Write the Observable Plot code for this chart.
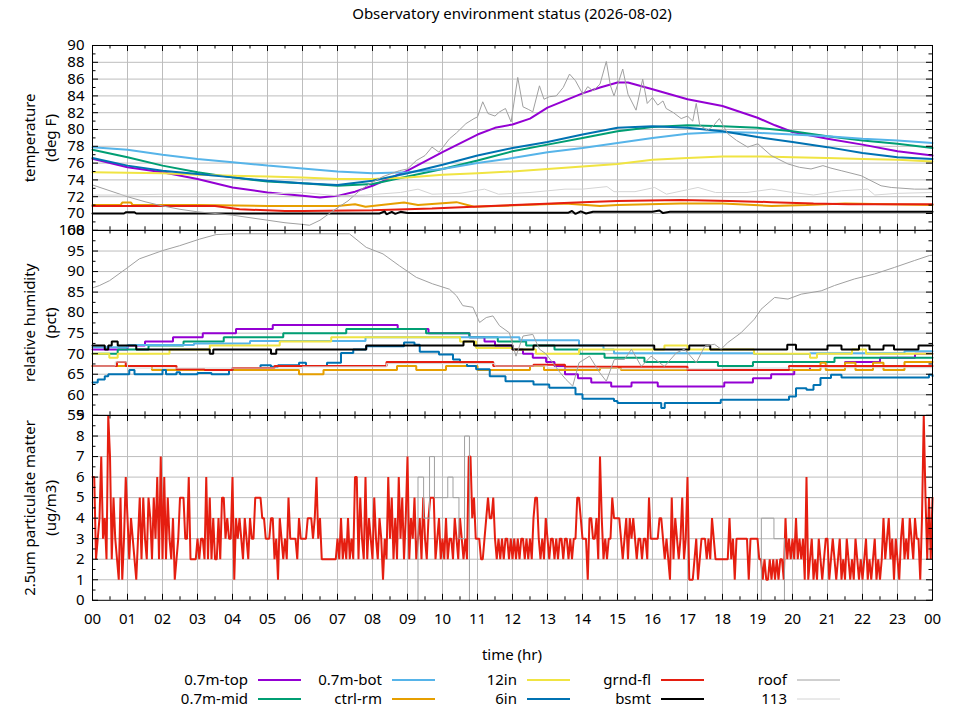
<!DOCTYPE html>
<html><head><meta charset="utf-8">
<script src="https://cdn.jsdelivr.net/npm/d3@7"></script>
<script src="https://cdn.jsdelivr.net/npm/@observablehq/plot@0.6"></script>
<style>
body{margin:0;background:#fff;font-family:"Noto Sans",sans-serif;color:#000}
#wrap{position:relative;width:960px;height:720px;overflow:hidden}
#wrap svg{position:absolute;left:0;overflow:visible;background:transparent}
.t{position:absolute;font-size:15px;white-space:nowrap;transform:translateX(-50%)}
</style></head><body>
<div id="wrap">
  <div class="t" style="left:512px;top:3px">Observatory environment status (2026-08-02)</div>
  <div class="t" style="left:512px;top:644px">time (hr)</div>
</div>
<script>
// ---------- series meta ----------
const seriesNames  = ["0.7m-top","0.7m-mid","0.7m-bot","ctrl-rm","12in","6in","grnd-fl","bsmt","roof","113"];
const seriesColors = ["#9400d3","#009e73","#56b4e9","#e69f00","#f0e442","#0072b2","#e51e10","#000000","#a0a0a0","#d4d4d4"];
const seriesWidths = [2,2,2,2,2,2,2,2,1,1];

// ---------- temperature (deg F), [hour, value] ----------
const tempTop = [[0,76.5],[1,75.5],[2,74.9],[3,74.1],[4,73.1],[5,72.5],[6,72.1],[6.5,71.9],[7,72.1],[7.5,72.6],[8,73.3],[9,75.1],[10,77.3],[11,79.4],[11.5,80.2],[12,80.6],[12.5,81.3],[13,82.6],[14,84.3],[14.5,85.0],[15,85.6],[15.3,85.6],[16,84.8],[17,83.6],[18,82.8],[19,81.4],[19.5,80.5],[20,79.7],[21,78.9],[22,78.2],[23,77.4],[24,76.9]];
const tempMid = [[0,77.6],[1,76.7],[2,75.7],[3,74.9],[4,74.3],[5,73.8],[6,73.6],[7,73.3],[8,73.5],[9,74.4],[10,75.3],[11,76.3],[12,77.4],[13,78.2],[14,79.0],[15,79.8],[16,80.3],[17,80.5],[18,80.4],[19,80.2],[20,79.8],[21,79.2],[22,78.7],[23,78.3],[24,77.8]];
const tempBot = [[0,77.9],[1,77.6],[2,77.0],[3,76.5],[4,76.1],[5,75.7],[6,75.35],[7,75.0],[8,74.8],[9,74.9],[10,75.3],[11,76.0],[12,76.6],[13,77.3],[14,77.8],[15,78.4],[16,79.0],[17,79.5],[18,79.7],[19,79.6],[20,79.4],[21,79.2],[22,78.9],[23,78.7],[24,78.4]];
const tempCtrl = [[0,71.0],[0.8,71.0],[0.85,71.3],[1.1,71.3],[1.15,71.0],[3,71.0],[5,70.9],[7,70.9],[7.5,71.1],[7.8,70.8],[8.9,71.3],[9.3,71.0],[10.4,71.35],[10.9,70.8],[12.5,71.05],[13.5,71.2],[14.5,70.9],[15,71.0],[16.8,71.2],[18,71.2],[19.4,70.9],[20.4,71.0],[21.5,71.2],[24,71.0]];
const temp12in = [[0,74.9],[2,74.8],[3,74.6],[4,74.5],[5,74.4],[6,74.3],[7,74.1],[8,74.1],[9,74.3],[10,74.6],[11,74.8],[12,75.0],[13,75.3],[14,75.6],[15,75.9],[16,76.4],[17,76.6],[18,76.8],[19,76.8],[20,76.7],[21,76.6],[22,76.5],[23,76.4],[24,76.2]];
const temp6in = [[0,76.6],[1,75.7],[2,75.1],[3,74.7],[4,74.3],[5,73.9],[6,73.6],[7,73.4],[8,73.9],[9,74.8],[10,75.8],[11,76.9],[12,77.8],[13,78.5],[14,79.4],[15,80.2],[16,80.4],[17,80.2],[18,79.8],[19,79.1],[20,78.5],[21,77.9],[22,77.2],[23,76.7],[24,76.5]];
const tempGrnd = [[0,70.9],[3.5,70.9],[4.2,70.5],[5.5,70.3],[6,70.3],[8,70.4],[9.7,70.6],[11.2,70.85],[12.6,71.1],[14,71.35],[15,71.5],[16.8,71.6],[18.2,71.5],[19.4,71.35],[20.6,71.2],[21.6,71.1],[24,71.1]];
const tempBsmt = [[0,70.0],[0.9,70.0],[0.95,70.15],[1.2,70.15],[1.25,70.0],[8.2,70.0],[8.35,70.25],[8.4,69.9],[8.55,70.2],[8.65,69.95],[8.8,70.2],[9.0,70.05],[11.5,70.1],[13.6,70.1],[13.7,70.3],[13.8,69.95],[13.95,70.25],[14.1,70.0],[14.3,70.2],[16.0,70.2],[16.2,70.35],[16.3,70.05],[16.5,70.2],[24,70.2]];
const tempRoof = [[0,73.4],[0.5,72.7],[1,72.0],[1.5,71.4],[2,70.9],[2.5,70.5],[3,70.2],[3.5,70.0],[4,69.8],[4.5,69.5],[5,69.2],[5.5,68.9],[6,68.7],[6.2,68.6],[6.5,69.2],[6.9,70.4],[7.3,71.5],[7.6,72.6],[7.9,73.5],[8.3,74.4],[8.77,75.1],[9.0,75.3],[9.25,76.3],[9.5,76.9],[9.7,77.9],[9.9,77.3],[10.2,78.9],[10.4,79.6],[10.67,80.7],[10.9,81.3],[11.0,81.5],[11.15,83.3],[11.3,81.9],[11.5,81.6],[11.63,82.1],[11.8,82.5],[11.96,80.9],[12.15,86.2],[12.3,82.7],[12.45,82.4],[12.58,82.1],[12.77,85.2],[12.9,83.6],[13.05,83.9],[13.25,84.0],[13.45,85.0],[13.63,86.6],[13.8,85.8],[14.01,84.2],[14.15,85.1],[14.3,84.6],[14.5,85.4],[14.68,88.1],[14.8,85.2],[14.9,84.0],[15.15,87.2],[15.3,84.2],[15.53,82.3],[15.72,86.0],[15.85,83.1],[16.0,83.8],[16.15,82.9],[16.3,83.4],[16.39,82.5],[16.6,82.0],[16.82,81.3],[17.0,81.6],[17.15,81.0],[17.25,83.1],[17.35,80.5],[17.58,79.9],[17.75,80.5],[17.91,81.3],[18.15,79.5],[18.4,78.7],[18.72,77.9],[19.01,78.3],[19.39,76.9],[19.87,75.9],[20.2,75.5],[20.53,75.3],[20.87,75.7],[21.1,75.4],[21.39,75.1],[21.96,74.5],[22.53,73.3],[22.82,73.1],[23.49,72.9],[24,72.9]];
const temp113 = [[0,72.2],[1,72.2],[2,72.3],[3,72.3],[4,72.3],[5,72.3],[6,72.5],[7,72.1],[7.8,72.2],[8.8,72.5],[9.3,72.9],[9.7,72.3],[10.5,72.4],[11.2,72.9],[11.6,72.3],[12.5,72.5],[13.5,72.9],[14,72.9],[14.7,73.2],[14.9,72.6],[15.5,72.6],[16.06,73.1],[16.4,72.3],[17.3,73.1],[17.8,72.5],[18.7,72.5],[19.4,72.9],[20.0,72.5],[20.6,72.2],[21.4,72.7],[22.15,72.9],[22.35,72.2],[23,72.4],[24,72.5]];

// ---------- relative humidity (pct), [hour, value] ----------
const rhTop = [[0,71],[1.0,72],[1.5,73],[2.3,74],[3.15,75],[4.1,76],[5.15,77],[8.72,76],[9.6,75],[10.77,74],[11.2,73],[11.5,72],[12.0,71],[12.3,70],[12.58,69],[12.96,68],[13.2,67],[13.5,65],[13.87,64],[14.25,63],[14.82,62],[15.4,63],[16.15,62],[18.05,63],[18.87,64],[19.39,65],[20.05,66],[20.5,67],[21.5,68],[22.5,69],[23.5,70],[24,70]];
const rhMid = [[0,70],[0.72,71],[1.6,72],[2.6,73],[3.75,74],[5.45,75],[7.25,76],[9.53,75],[10.77,74],[11.58,73],[12.39,72],[13.2,71],[13.91,70],[14.63,69],[15.77,68],[17.87,67],[18.87,68],[21.2,69],[24,69]];
const rhBot = [[0,71.6],[1.0,72.1],[2.9,72.5],[4.5,73.1],[7.8,74],[12.2,73.3],[13.9,72],[14.6,71],[14.9,70.1],[18.9,69.9],[20.5,70.1],[23.2,70.6],[24,70.6]];
const rhCtrl = [[0,67],[1.7,66],[5.9,65],[6.6,66],[8.7,67],[9.25,66],[10.1,67],[11.0,66],[12.5,67],[12.9,66],[14.5,66.5],[15.1,66],[20.8,67.8],[20.95,66],[21.5,67.8],[21.8,66],[22.3,67.8],[22.6,66],[23.2,68],[24,68]];
const rh12in = [[0,70],[0.48,69],[0.72,70],[2.2,71],[3.35,72],[5.35,73],[6.82,74],[10.5,73],[10.96,71.4],[12.0,71],[12.67,70],[13.9,71],[16.34,72],[17.0,71],[18.9,70],[20.5,69],[20.7,70],[21.7,71],[22.1,70],[24,70]];
const rh6in = [[0,63],[0.15,63.7],[0.35,64.5],[0.45,65],[1.05,66],[1.2,65],[2.0,66],[2.1,65],[2.4,65.5],[2.5,65],[3.0,65.3],[3.4,65],[3.9,66],[4.0,66.5],[4.8,67.2],[5.1,66.8],[5.3,67.2],[5.9,67.8],[6.1,67],[6.7,67.8],[7.1,70.2],[7.45,71],[7.82,71.8],[8.9,72.7],[9.2,72.2],[9.35,70.5],[9.9,69.8],[10.3,68.6],[10.5,67.8],[10.7,67],[10.96,66.2],[11.35,64.5],[11.8,63.3],[12.6,62.5],[13.05,61.7],[13.8,60.1],[14.0,59],[14.9,58.5],[15.0,58],[16.25,56.8],[16.35,58],[17.95,58.8],[19.9,59.6],[20.1,61.6],[20.4,61.2],[20.6,62.4],[20.8,64.1],[21.1,64.9],[21.4,64.2],[23.9,64.9],[24,64.5]];
const rhGrnd = [[0,67],[0.7,68],[0.95,67],[2.4,66.2],[3.2,66],[4.0,66.5],[5.2,67],[8.4,68],[11.45,67],[12.6,67.3],[13.5,66.8],[17.0,66],[19.9,67],[24,67]];
const rhBsmt = [[0,72],[0.35,71],[0.45,72],[0.55,73],[0.72,72],[1.25,71],[3.35,70],[3.45,71],[5.1,70],[5.25,71],[7.82,72],[10.6,73],[10.9,72],[12.0,71],[12.6,72],[16.05,71],[17.05,72],[17.65,71],[19.85,72.2],[20.1,71],[21.0,72],[21.4,71],[21.9,72],[22.2,71],[22.6,72],[22.9,71],[23.6,72],[24,72]];
const rhRoof = [[0,86],[0.2,86.6],[0.49,87.8],[0.96,90.7],[1.34,93.1],[2.0,95.1],[2.49,96.3],[3.06,97.9],[3.53,99],[4.0,99.2],[7.34,99.2],[7.82,95.9],[8.3,94.3],[8.77,91.4],[9.25,88.6],[9.72,87],[10.2,85.7],[10.4,84.1],[10.58,81.7],[10.87,81.3],[11.06,77.6],[11.25,78.8],[11.44,79.2],[11.63,76.8],[11.91,75.1],[12.1,69.4],[12.3,74.3],[12.58,74.7],[12.77,71.1],[12.95,70.0],[13.15,67.8],[13.35,65.5],[13.53,63.7],[13.72,62.1],[13.9,67.8],[14.2,69.4],[14.49,65.4],[14.68,63.3],[14.91,68.6],[15.2,68.6],[15.4,71.1],[15.68,66.9],[15.96,69.4],[16.34,66.9],[16.68,70.2],[16.91,71.1],[17.25,67.8],[17.5,71.9],[17.77,72.3],[17.96,71.1],[18.15,72.7],[18.53,75.1],[18.91,78.4],[19.1,80.8],[19.49,83.7],[19.87,83.3],[20.25,84.5],[20.82,85.3],[21.2,86.6],[21.77,88.2],[22.34,89.4],[22.91,91],[23.49,92.7],[23.91,93.9],[24,94]];
const rh113 = [[0,67],[0.65,68],[1.0,66.5],[3,66.5],[6,66.8],[8.4,67.6],[11.5,67],[13,66.5],[15,66.3],[18,66.5],[20,66.6],[24,67]];

// ---------- 2.5um particulate matter (ug/m3) ----------
// grnd-fl sampled every 0.05 hr, one row per hour
const pmGrnd = [
 6,6,2,3,4,7,3,4,2,9,7,2,5,3,2,1,5,1,3,6,
 4,2,4,3,2,1,3,5,2,5,3,2,5,4,2,5,3,6,2,7,
 2,6,2,5,3,2,4,1,2,3,5,5,5,3,3,6,2,2,2,2,
 3,2,3,3,2,6,2,5,2,4,2,2,4,2,5,5,3,4,3,3,
 6,1,4,3,4,3,2,4,3,2,4,3,3,5,5,5,5,4,4,3,
 3,3,4,4,2,3,1,4,3,2,3,2,5,3,3,3,3,2,4,3,
 3,3,3,4,4,4,3,4,6,3,4,2,2,2,2,2,2,2,2,2,
 3,2,4,2,3,2,4,2,3,2,6,6,2,5,3,2,6,2,4,3,
 2,5,3,2,4,3,1,3,2,6,3,5,2,4,2,6,3,5,2,4,
 7,2,4,3,5,2,3,4,2,5,3,2,4,5,5,5,2,3,4,2,
 3,2,4,2,3,3,2,4,3,2,4,3,2,3,2,7,7,4,5,3,
 3,3,2,2,3,4,5,4,4,5,3,2,3,2,3,2,3,3,2,3,
 2,3,2,3,2,3,3,2,3,2,3,2,4,5,5,3,2,3,2,4,
 3,2,3,3,2,3,2,3,3,2,3,3,2,3,2,3,3,5,5,4,
 3,3,3,1,4,4,3,3,4,2,7,4,2,3,2,3,3,5,4,4,
 4,4,3,2,3,4,2,4,3,4,3,2,3,3,2,3,3,2,5,3,
 3,3,3,3,4,4,3,2,3,2,1,5,2,4,3,2,3,5,2,3,
 6,1,1,1,2,3,1,2,3,3,3,2,3,2,4,3,2,2,2,2,
 2,2,2,2,4,2,3,1,3,3,3,3,3,3,3,1,3,3,3,3,
 3,2,2,1,2,1,1,2,1,2,1,2,1,2,2,1,4,2,3,2,
 3,2,4,2,3,2,3,1,6,1,2,3,1,2,1,3,2,1,2,3,
 3,1,2,3,2,1,2,3,1,2,1,3,2,1,2,1,3,2,1,2,
 1,2,3,1,2,1,2,3,1,2,1,2,4,2,3,4,2,3,1,3,
 2,1,3,4,2,3,2,4,3,2,4,3,3,1,4,9,5,2,5,2,
 5];
const pmStepHr = 0.05;
const pmRoofA = [[9.29,0],[9.30,6],[9.46,4],[9.63,7],[9.77,5],[10.15,6],[10.3,5],[10.47,3],[10.63,8],[10.77,0]];
const pmRoofB = [[19.1,0],[19.11,4],[19.47,3],[19.77,0]];

// ---------- axes ----------
const hourTicks = d3.range(0, 25);
const halfHourTicks = d3.range(0.5, 24, 1);
const tempMajor = d3.range(68, 91, 2), tempMinor = d3.range(69, 90, 2);
const rhMajor = d3.range(55, 101, 5), rhMinor = d3.range(57.5, 100, 5);
const pmMajor = d3.range(0, 10, 1), pmMinor = d3.range(0.5, 9, 1);
const tempLabel = ["temperature", "(deg F)"];
const rhLabel = ["relative humidity", "(pct)"];
const pmLabel = ["2.5um particulate matter", "(ug/m3)"];

const wrap = document.getElementById("wrap");
const PLOT_H = 184.8, MT = 10;
const X0 = 92, X1 = 932;

function seriesLines(list, curve) {
  const marks = [];
  list.forEach((arr, i) => {
    if (!arr) return;
    (Array.isArray(arr[0][0]) ? arr : [arr]).forEach(seg => {
      marks.push(Plot.line(seg, {x: d => d[0], y: d => d[1], stroke: seriesColors[i],
        strokeWidth: seriesWidths[i], curve, strokeLinejoin: "miter"}));
    });
  });
  return marks;
}

function panel({top, domain, major, minor, marks, label, xaxis}) {
  const mb = xaxis ? 45 : 10;
  const kx = 24 / (X1 - X0);
  const ky = (domain[1] - domain[0]) / PLOT_H;
  const m = [
    Plot.gridX(hourTicks.slice(1, -1), {stroke: "#bdbdbd", strokeOpacity: 1, strokeWidth: 1}),
    Plot.gridY(major.slice(1, -1), {stroke: "#bdbdbd", strokeOpacity: 1, strokeWidth: 1}),
    ...marks,
    Plot.ruleY(major, {y: d => d, x1: 0, x2: 6 * kx, stroke: "black", strokeWidth: 1}),
    Plot.ruleY(minor, {y: d => d, x1: 0, x2: 3.5 * kx, stroke: "black", strokeWidth: 1}),
    Plot.ruleY(major, {y: d => d, x1: 24 - 6 * kx, x2: 24, stroke: "black", strokeWidth: 1}),
    Plot.ruleY(minor, {y: d => d, x1: 24 - 3.5 * kx, x2: 24, stroke: "black", strokeWidth: 1}),
    Plot.ruleX(hourTicks, {x: d => d, y1: domain[0], y2: domain[0] + 6 * ky, stroke: "black", strokeWidth: 1}),
    Plot.ruleX(halfHourTicks, {x: d => d, y1: domain[0], y2: domain[0] + 3.5 * ky, stroke: "black", strokeWidth: 1}),
    Plot.ruleX(hourTicks, {x: d => d, y1: domain[1] - 6 * ky, y2: domain[1], stroke: "black", strokeWidth: 1}),
    Plot.ruleX(halfHourTicks, {x: d => d, y1: domain[1] - 3.5 * ky, y2: domain[1], stroke: "black", strokeWidth: 1}),
    Plot.frame({stroke: "black", strokeWidth: 1}),
    Plot.axisY(major, {tickSize: 0, tickPadding: 8, fontSize: 15, label: null, tickFormat: d => String(d)}),
    Plot.text([label[0]], {text: d => d, frameAnchor: "left", dx: -62, rotate: -90, textAnchor: "middle", lineAnchor: "middle", fontSize: 15, fill: "black"}),
    Plot.text([label[1]], {text: d => d, frameAnchor: "left", dx: -41, rotate: -90, textAnchor: "middle", lineAnchor: "middle", fontSize: 15, fill: "black"})
  ];
  if (xaxis) m.push(Plot.axisX(hourTicks, {tickSize: 0, tickPadding: 13, fontSize: 15, label: null,
      tickFormat: d => String(d % 24).padStart(2, "0")}));
  const svg = Plot.plot({
    width: 960, height: PLOT_H + MT + mb,
    marginLeft: X0, marginRight: 960 - X1, marginTop: MT, marginBottom: mb,
    x: {domain: [0, 24], ...(xaxis ? {} : {axis: null})},
    y: {domain},
    style: {fontFamily: "Noto Sans", fontSize: "15px", background: "transparent", color: "black", overflow: "visible"},
    marks: m
  });
  svg.style.top = (top - MT) + "px";
  wrap.appendChild(svg);
}

const pmTable = pmGrnd.map((v, i) => [i * pmStepHr, v]);

panel({top: 45, domain: [68, 90], major: tempMajor, minor: tempMinor, label: tempLabel,
  marks: seriesLines([tempTop, tempMid, tempBot, tempCtrl, temp12in, temp6in, tempGrnd, tempBsmt, tempRoof, temp113], "linear")});
panel({top: 45 + PLOT_H, domain: [55, 100], major: rhMajor, minor: rhMinor, label: rhLabel,
  marks: [...seriesLines([rhTop, rhMid, rhBot, rhCtrl, rh12in, rh6in, rhGrnd, rhBsmt, null, rh113], "step-after"),
          ...seriesLines([null, null, null, null, null, null, null, null, rhRoof, null], "linear")]});
panel({top: 45 + 2 * PLOT_H, domain: [0, 9], major: pmMajor, minor: pmMinor, label: pmLabel, xaxis: true,
  marks: [...seriesLines([null, null, null, null, null, null, pmTable, null, null, null], "linear"),
          ...seriesLines([null, null, null, null, null, null, null, null, [pmRoofA, pmRoofB], null], "step-after")]});

// ---------- legend ----------
const legendCols = [248, 382, 517, 651, 787];
const legendRows = [680, 699];
const NS = "http://www.w3.org/2000/svg";
const lg = document.createElementNS(NS, "svg");
lg.setAttribute("width", 960); lg.setAttribute("height", 720);
lg.style.top = "0px";
seriesNames.forEach((name, i) => {
  const col = Math.floor(i / 2), row = i % 2;
  const x = legendCols[col], y = legendRows[row];
  const t = document.createElementNS(NS, "text");
  t.setAttribute("x", x); t.setAttribute("y", y); t.setAttribute("dy", "0.35em");
  t.setAttribute("text-anchor", "end"); t.setAttribute("font-size", "15");
  t.setAttribute("font-family", "Noto Sans"); t.textContent = name;
  lg.appendChild(t);
  const l = document.createElementNS(NS, "line");
  l.setAttribute("x1", x + 10); l.setAttribute("x2", x + 53);
  l.setAttribute("y1", y); l.setAttribute("y2", y);
  l.setAttribute("stroke", seriesColors[i]); l.setAttribute("stroke-width", seriesWidths[i]);
  lg.appendChild(l);
});
wrap.appendChild(lg);
</script>
</body></html>
